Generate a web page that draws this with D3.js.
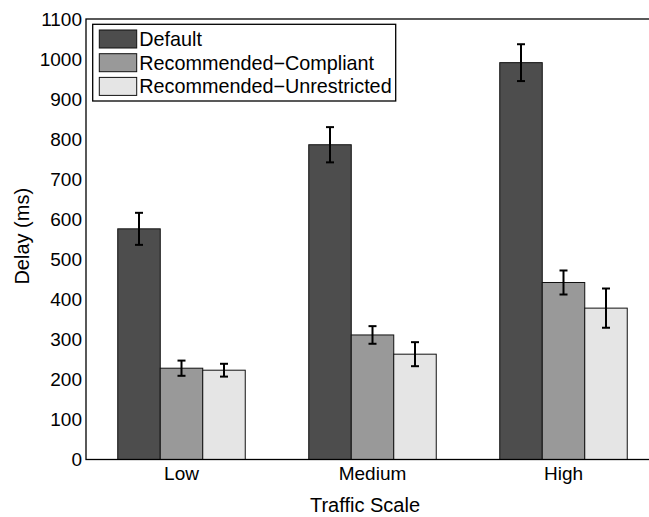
<!DOCTYPE html>
<html>
<head>
<meta charset="utf-8">
<script src="https://cdn.jsdelivr.net/npm/d3@7"></script>
<style>
  body { margin: 0; background: #fff; }
  svg { display: block; font-family: "Liberation Sans", Arial, Helvetica, sans-serif; }
</style>
</head>
<body>
<div id="chart"></div>
<script>
// Data
const categories = ['Low', 'Medium', 'High'];
const seriesNames = ['Default', 'Recommended\u2212Compliant', 'Recommended\u2212Unrestricted'];
const defaultDelay = [576, 786, 991];
const defaultErr = [40, 44, 46];
const compliantDelay = [228, 311, 442];
const compliantErr = [19, 22, 30];
const unrestrictedDelay = [223, 263, 378];
const unrestrictedErr = [16, 30, 49];
const yTicks = [0, 100, 200, 300, 400, 500, 600, 700, 800, 900, 1000, 1100];

const colors = ['#4d4d4d', '#999999', '#e5e5e5'];
const means = [defaultDelay, compliantDelay, unrestrictedDelay];
const errs = [defaultErr, compliantErr, unrestrictedErr];

const width = 649, height = 517;
const plot = { left: 86, right: 659, top: 19, bottom: 459.5 };

const svg = d3.select('#chart').append('svg')
  .attr('width', width)
  .attr('height', height);

// Scales
const x0 = d3.scaleBand().domain(categories).range([plot.left, plot.right]);
const groupWidth = x0.bandwidth() * 0.6675;
const x1 = d3.scaleBand().domain(seriesNames).range([-groupWidth / 2, groupWidth / 2]);
const y = d3.scaleLinear().domain([0, 1100]).range([plot.bottom, plot.top]);

// flatten into rows
const rows = [];
categories.forEach((c, i) => {
  seriesNames.forEach((s, j) => {
    rows.push({ cat: c, series: s, idx: j, value: means[j][i], err: errs[j][i] });
  });
});

// Bars
svg.append('g').selectAll('rect')
  .data(rows)
  .join('rect')
  .attr('x', d => x0(d.cat) + x0.bandwidth() / 2 + x1(d.series))
  .attr('y', d => y(d.value))
  .attr('width', x1.bandwidth())
  .attr('height', d => y(0) - y(d.value))
  .attr('fill', d => colors[d.idx])
  .attr('stroke', '#111')
  .attr('stroke-width', 1);

// Error bars
const capHalf = 4;
const eb = svg.append('g').attr('stroke', '#000').attr('stroke-width', 2);
const cx = d => x0(d.cat) + x0.bandwidth() / 2 + x1(d.series) + x1.bandwidth() / 2;
eb.selectAll('line.v').data(rows).join('line').attr('class', 'v')
  .attr('x1', cx).attr('x2', cx)
  .attr('y1', d => y(d.value + d.err)).attr('y2', d => y(d.value - d.err));
eb.selectAll('line.t').data(rows).join('line').attr('class', 't')
  .attr('x1', d => cx(d) - capHalf).attr('x2', d => cx(d) + capHalf)
  .attr('y1', d => y(d.value + d.err)).attr('y2', d => y(d.value + d.err));
eb.selectAll('line.b').data(rows).join('line').attr('class', 'b')
  .attr('x1', d => cx(d) - capHalf).attr('x2', d => cx(d) + capHalf)
  .attr('y1', d => y(d.value - d.err)).attr('y2', d => y(d.value - d.err));

// Frame
svg.append('rect')
  .attr('x', plot.left).attr('y', plot.top)
  .attr('width', plot.right - plot.left).attr('height', plot.bottom - plot.top)
  .attr('fill', 'none').attr('stroke', '#000').attr('stroke-width', 1.3);

// Y axis
const yAxis = svg.append('g')
  .attr('transform', `translate(${plot.left},0)`)
  .call(d3.axisLeft(y).tickValues(yTicks).tickFormat(d3.format('d')).tickSize(0).tickPadding(4));
yAxis.select('.domain').remove();
yAxis.selectAll('text').attr('font-size', 19).attr('fill', '#000');

// X axis
const xAxis = svg.append('g')
  .attr('transform', `translate(0,${plot.bottom})`)
  .call(d3.axisBottom(x0).tickSize(0).tickPadding(7));
xAxis.select('.domain').remove();
xAxis.selectAll('text').attr('font-size', 19).attr('fill', '#000');

// Axis titles
svg.append('text')
  .attr('x', 365).attr('y', 512)
  .attr('text-anchor', 'middle')
  .attr('font-size', 20)
  .text('Traffic Scale');

svg.append('text')
  .attr('transform', `translate(29,${(plot.top + plot.bottom) / 2 - 3}) rotate(-90)`)
  .attr('text-anchor', 'middle')
  .attr('font-size', 20)
  .text('Delay (ms)');

// Legend
const legend = svg.append('g');
legend.append('rect')
  .attr('x', 92.7).attr('y', 24.3)
  .attr('width', 303).attr('height', 76.7)
  .attr('fill', '#fff').attr('stroke', '#000').attr('stroke-width', 1.3);
const items = legend.selectAll('g.item')
  .data(seriesNames)
  .join('g')
  .attr('class', 'item')
  .attr('transform', (d, i) => `translate(99.3,${30 + i * 23.7})`);
items.append('rect')
  .attr('width', 37.4).attr('height', 18)
  .attr('fill', (d, i) => colors[i])
  .attr('stroke', '#111').attr('stroke-width', 1);
items.append('text')
  .attr('x', 40).attr('y', 16)
  .attr('font-size', 19.8)
  .text(d => d);
</script>
</body>
</html>
